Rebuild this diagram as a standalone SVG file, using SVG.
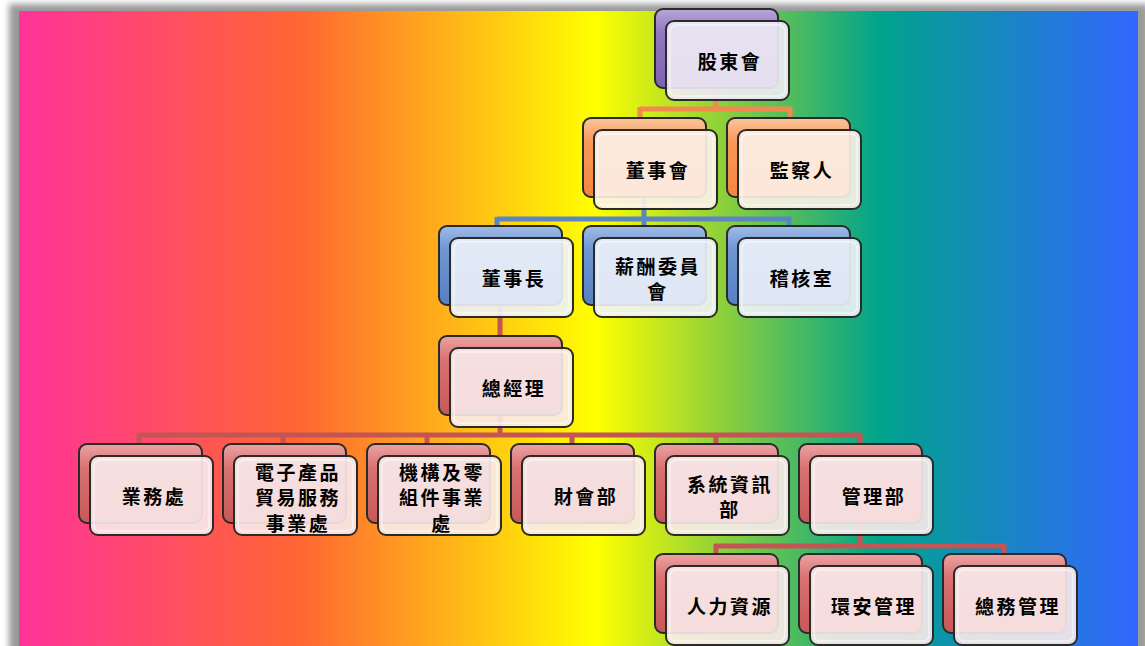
<svg xmlns="http://www.w3.org/2000/svg" width="1145" height="646" viewBox="0 0 1145 646">
<defs>
<linearGradient id="bg" x1="19" y1="0" x2="1138" y2="0" gradientUnits="userSpaceOnUse">
<stop offset="0" stop-color="#FF3399"/>
<stop offset="0.25" stop-color="#FF6633"/>
<stop offset="0.34" stop-color="#FF9922"/>
<stop offset="0.515" stop-color="#FFFF00"/>
<stop offset="0.63" stop-color="#8CCF3C"/>
<stop offset="0.77" stop-color="#00A38C"/>
<stop offset="1" stop-color="#3366FF"/>
</linearGradient>
<linearGradient id="gP" x1="0" y1="0" x2="0" y2="1"><stop offset="0" stop-color="#B8A6D8"/><stop offset="0.3" stop-color="#9278BF"/><stop offset="1" stop-color="#7F62B0"/></linearGradient>
<linearGradient id="gO" x1="0" y1="0" x2="0" y2="1"><stop offset="0" stop-color="#FBC59C"/><stop offset="0.3" stop-color="#F89A58"/><stop offset="1" stop-color="#F38640"/></linearGradient>
<linearGradient id="gB" x1="0" y1="0" x2="0" y2="1"><stop offset="0" stop-color="#A0BBE6"/><stop offset="0.3" stop-color="#6E96D4"/><stop offset="1" stop-color="#5580C2"/></linearGradient>
<linearGradient id="gR" x1="0" y1="0" x2="0" y2="1"><stop offset="0" stop-color="#EBA3A3"/><stop offset="0.3" stop-color="#D87272"/><stop offset="1" stop-color="#C85858"/></linearGradient>
<filter id="sh" x="-5%" y="-5%" width="110%" height="110%"><feGaussianBlur stdDeviation="3"/></filter>
<style>
.back{stroke:#2a2a2a;stroke-width:2}
.front{stroke:#2a2a2a;stroke-width:2;fill-opacity:0.9}
.gl{fill:none;stroke:#ffffff;stroke-opacity:0.55;stroke-width:1.5}
.p .back{fill:url(#gP)} .p .front{fill:#F0ECF6}
.o .back{fill:url(#gO)} .o .front{fill:#FDF2EA}
.b .back{fill:url(#gB)} .b .front{fill:#EEF2F9}
.r .back{fill:url(#gR)} .r .front{fill:#F9EBEB}
text{font-family:"Noto Sans CJK TC","Noto Sans CJK SC",sans-serif;font-weight:700;font-size:19px;fill:#000;text-anchor:middle;letter-spacing:2.5px}
.cn{fill:none;stroke-width:5;stroke-linejoin:miter}
.co{stroke:#F28A50}
.cb{stroke:#5B86C3}
.cr{stroke:#C45555}
</style>
</defs>
<rect x="0" y="0" width="1145" height="646" fill="#ffffff"/>
<rect x="9" y="4" width="1140" height="700" fill="#9a9a9a" filter="url(#sh)"/>
<rect x="19" y="11" width="1119" height="640" fill="url(#bg)"/>

<g id="connectors">
<path class="cn co" d="M716,88 V109 M640,109 H790 M640,107 V120 M790,107 V120"/>
<path class="cn cb" d="M644,196 V219 M497,219 H791 M497,217 V228 M644,217 V228 M789,217 V228"/>
<path class="cn cr" d="M500,305 V338"/>
<path class="cn cr" d="M500,414 V435 M138,435 H862 M139,433 V446 M283,433 V446 M427,433 V446 M572,433 V446 M716,433 V446 M860,433 V446"/>
<path class="cn cr" d="M860,523 V546 M714,546 H1006 M716,544 V556 M1004,544 V556"/>
</g>

<g id="n1" class="p" transform="translate(655,9)"><rect class="back" width="123" height="79" rx="8"/><rect class="front" x="11" y="12" width="123" height="79" rx="8"/><rect class="gl" x="15" y="16" width="115" height="71" rx="6"/><text x="75" y="60">股東會</text></g>

<g id="n2" class="o" transform="translate(583,118)"><rect class="back" width="123" height="79" rx="8"/><rect class="front" x="11" y="12" width="123" height="79" rx="8"/><rect class="gl" x="15" y="16" width="115" height="71" rx="6"/><text x="75" y="60">董事會</text></g>
<g id="n3" class="o" transform="translate(727,118)"><rect class="back" width="123" height="79" rx="8"/><rect class="front" x="11" y="12" width="123" height="79" rx="8"/><rect class="gl" x="15" y="16" width="115" height="71" rx="6"/><text x="75" y="60">監察人</text></g>

<g id="n4" class="b" transform="translate(439,226)"><rect class="back" width="123" height="79" rx="8"/><rect class="front" x="11" y="12" width="123" height="79" rx="8"/><rect class="gl" x="15" y="16" width="115" height="71" rx="6"/><text x="75" y="60">董事長</text></g>
<g id="n5" class="b" transform="translate(583,226)"><rect class="back" width="123" height="79" rx="8"/><rect class="front" x="11" y="12" width="123" height="79" rx="8"/><rect class="gl" x="15" y="16" width="115" height="71" rx="6"/><text x="75" y="47.5"><tspan x="75">薪酬委員</tspan><tspan x="75" dy="25.5">會</tspan></text></g>
<g id="n6" class="b" transform="translate(727,226)"><rect class="back" width="123" height="79" rx="8"/><rect class="front" x="11" y="12" width="123" height="79" rx="8"/><rect class="gl" x="15" y="16" width="115" height="71" rx="6"/><text x="75" y="60">稽核室</text></g>

<g id="n7" class="r" transform="translate(439,336)"><rect class="back" width="123" height="79" rx="8"/><rect class="front" x="11" y="12" width="123" height="79" rx="8"/><rect class="gl" x="15" y="16" width="115" height="71" rx="6"/><text x="75" y="60">總經理</text></g>

<g id="n8" class="r" transform="translate(79,444)"><rect class="back" width="123" height="79" rx="8"/><rect class="front" x="11" y="12" width="123" height="79" rx="8"/><rect class="gl" x="15" y="16" width="115" height="71" rx="6"/><text x="75" y="60">業務處</text></g>
<g id="n9" class="r" transform="translate(223,444)"><rect class="back" width="123" height="79" rx="8"/><rect class="front" x="11" y="12" width="123" height="79" rx="8"/><rect class="gl" x="15" y="16" width="115" height="71" rx="6"/><text x="75" y="35.5"><tspan x="75">電子產品</tspan><tspan x="75" dy="25.5">貿易服務</tspan><tspan x="75" dy="25.5">事業處</tspan></text></g>
<g id="n10" class="r" transform="translate(367,444)"><rect class="back" width="123" height="79" rx="8"/><rect class="front" x="11" y="12" width="123" height="79" rx="8"/><rect class="gl" x="15" y="16" width="115" height="71" rx="6"/><text x="75" y="35.5"><tspan x="75">機構及零</tspan><tspan x="75" dy="25.5">組件事業</tspan><tspan x="75" dy="25.5">處</tspan></text></g>
<g id="n11" class="r" transform="translate(511,444)"><rect class="back" width="123" height="79" rx="8"/><rect class="front" x="11" y="12" width="123" height="79" rx="8"/><rect class="gl" x="15" y="16" width="115" height="71" rx="6"/><text x="75" y="60">財會部</text></g>
<g id="n12" class="r" transform="translate(655,444)"><rect class="back" width="123" height="79" rx="8"/><rect class="front" x="11" y="12" width="123" height="79" rx="8"/><rect class="gl" x="15" y="16" width="115" height="71" rx="6"/><text x="75" y="47.5"><tspan x="75">系統資訊</tspan><tspan x="75" dy="25.5">部</tspan></text></g>
<g id="n13" class="r" transform="translate(799,444)"><rect class="back" width="123" height="79" rx="8"/><rect class="front" x="11" y="12" width="123" height="79" rx="8"/><rect class="gl" x="15" y="16" width="115" height="71" rx="6"/><text x="75" y="60">管理部</text></g>

<g id="n14" class="r" transform="translate(655,554)"><rect class="back" width="123" height="79" rx="8"/><rect class="front" x="11" y="12" width="123" height="79" rx="8"/><rect class="gl" x="15" y="16" width="115" height="71" rx="6"/><text x="75" y="60">人力資源</text></g>
<g id="n15" class="r" transform="translate(799,554)"><rect class="back" width="123" height="79" rx="8"/><rect class="front" x="11" y="12" width="123" height="79" rx="8"/><rect class="gl" x="15" y="16" width="115" height="71" rx="6"/><text x="75" y="60">環安管理</text></g>
<g id="n16" class="r" transform="translate(943,554)"><rect class="back" width="123" height="79" rx="8"/><rect class="front" x="11" y="12" width="123" height="79" rx="8"/><rect class="gl" x="15" y="16" width="115" height="71" rx="6"/><text x="75" y="60">總務管理</text></g>
</svg>
